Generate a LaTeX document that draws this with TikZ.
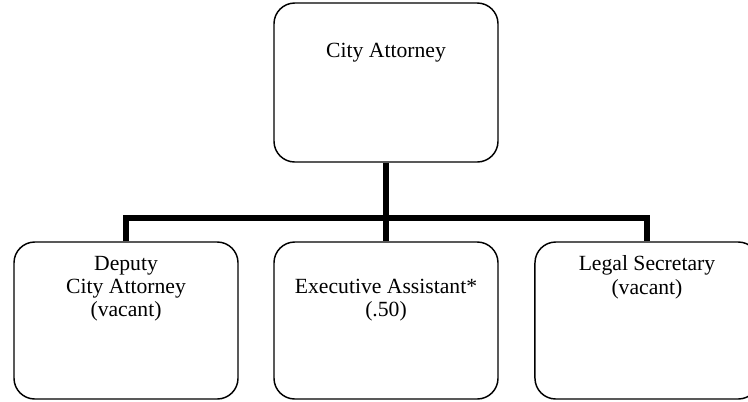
\documentclass[tikz,border=0pt]{standalone}
\usepackage{fontspec}
\setmainfont{Liberation Serif}
\usetikzlibrary{positioning}

\begin{document}
\begin{tikzpicture}[
    post/.style={draw, line width=1.1pt, rounded corners=0.55cm,
      minimum width=5.927cm, minimum height=4.154cm, inner sep=0pt},
    title/.style={anchor=base, align=center, inner sep=0pt,
      font=\fontsize{16.3pt}{17.5pt}\selectfont},
    conn/.style={line width=4pt, line join=miter}
  ]
  \useasboundingbox (0,0) rectangle (19.791,-10.610);
  \node (ca) [post, minimum height=4.207cm] at (10.213,-2.183) {};
  \node (dca) [post] at (3.334,-8.480) {};
  \node (ea) [post] at (10.213,-8.480) {};
  \node (ls) [post] at (17.118,-8.480) {};
  \node (ca text) [title] at (10.213,-1.508) {City Attorney};
  \node (dca text) [title] at (3.334,-8.387) {Deputy\\City Attorney\\(vacant)};
  \node (ea text) [title] at (10.213,-8.387) {Executive Assistant*\\(.50)};
  \node (ls text) [title] at (17.118,-7.779) {Legal Secretary\\(vacant)};
  \coordinate (bar) at (0,-5.768);
  \draw[conn] (ca.south) -- (ea.north);
  \draw[conn] (dca.north) |- (ls.north |- bar) -- (ls.north);
\end{tikzpicture}
\end{document}
